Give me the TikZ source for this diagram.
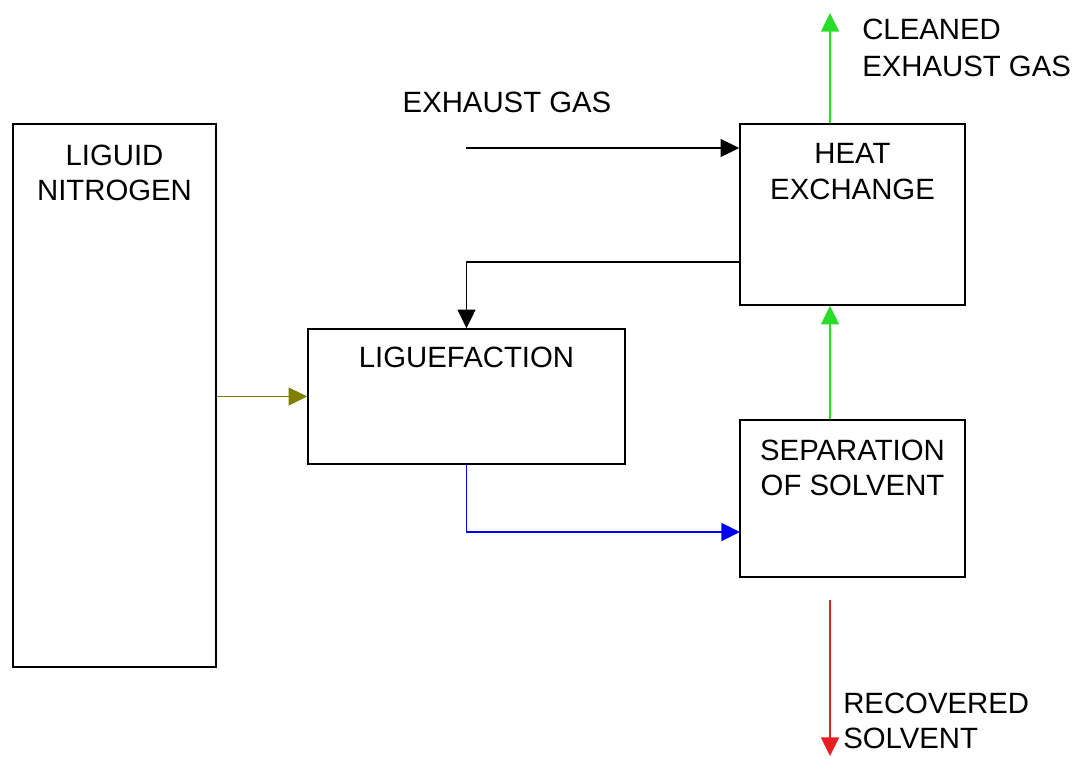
\documentclass[tikz,border=0pt]{standalone}
\usepackage{fontspec}
\setmainfont{Liberation Sans}
\usetikzlibrary{arrows.meta}
\definecolor{olivearrow}{RGB}{128,128,0}
\definecolor{bluearrow}{RGB}{0,0,240}
\definecolor{greenarrow}{RGB}{40,220,40}
\definecolor{redarrow}{RGB}{230,30,30}
\begin{document}
\begin{tikzpicture}[x=0.75pt,y=-0.75pt,
  box/.style={draw=black,line width=1.2pt,inner sep=0pt,minimum width=#1},
  lbl/.style={anchor=base,inner sep=0pt,font=\fontsize{22}{26}\selectfont},
  lbll/.style={anchor=base west,inner sep=0pt,font=\fontsize{22}{26}\selectfont},
  conn/.style={line width=1.1pt,-{Triangle[length=14pt,width=13.5pt]}}]
\useasboundingbox[fill=white] (0,0) rectangle (1087,758);
% boxes
\node[box=152.25pt,minimum height=407.25pt] (ln) at (114.5,395.5) {};
\node[box=237.75pt,minimum height=101.25pt] (lq) at (466.5,396.5) {};
\node[box=168.75pt,minimum height=135.75pt] (hx) at (852.5,214.5) {};
\node[box=168.75pt,minimum height=117.75pt] (sep) at (852.5,498.5) {};
% labels
\node[lbl] (lnA) at (114.5,165) {LIGUID};
\node[lbl] (lnB) at (114.5,200) {NITROGEN};
\node[lbl] (lqA) at (466.5,367) {LIGUEFACTION};
\node[lbl] (hxA) at (852.5,163) {HEAT};
\node[lbl] (hxB) at (852.5,199) {EXCHANGE};
\node[lbl] (sepA) at (852.5,460) {SEPARATION};
\node[lbl] (sepB) at (852.5,495) {OF SOLVENT};
\node[lbl] (exg) at (507,112) {EXHAUST GAS};
\node[lbll] (clA) at (862,39) {CLEANED};
\node[lbll] (clB) at (862,76) {EXHAUST GAS};
\node[lbll] (rsA) at (843,713) {RECOVERED};
\node[lbll] (rsB) at (843,748) {SOLVENT};
% coordinates
\coordinate (exs) at (466,148);
\coordinate (hxout) at (740,262);
\coordinate (sepin) at (740,532);
\coordinate (gx) at (830,0);
\coordinate (cleantop) at (830,13);
\coordinate (redstart) at (830,600);
\coordinate (redend) at (830,756);
% connectors
\draw[conn,black] (exs) -- (exs -| hx.west);
\draw[conn,black] (hxout) -| (lq.north);
\draw[conn,olivearrow] (ln.east |- lq.west) -- (lq.west);
\draw[conn,bluearrow] (lq.south) |- (sepin);
\draw[conn,greenarrow] (sep.north -| gx) -- (hx.south -| gx);
\draw[conn,greenarrow] (hx.north -| gx) -- (cleantop);
\draw[conn,redarrow] (redstart) -- (redend);
\end{tikzpicture}
\end{document}
